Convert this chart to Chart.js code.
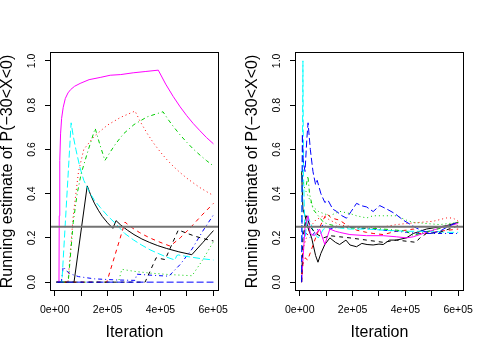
<!DOCTYPE html>
<html>
<head>
<meta charset="utf-8">
<script src="https://cdn.jsdelivr.net/npm/chart.js@4"></script>
<style>
  html, body { margin: 0; padding: 0; background: #fff; }
  #wrap { position: relative; width: 491px; height: 355px; }
  canvas { position: absolute; top: 0; }
  #leftPanel { left: 0; }
  #rightPanel { left: 245px; }
</style>
</head>
<body>
<div id="wrap">
  <canvas id="leftPanel" width="245" height="355"></canvas>
  <canvas id="rightPanel" width="246" height="355"></canvas>
</div>
<script>
// axis ticks
const xTicks = [0, 100000, 200000, 300000, 400000, 500000, 600000];
const xTickLabels = ['0e+00', '', '2e+05', '', '4e+05', '', '6e+05'];
const yTicks = [0, 0.2, 0.4, 0.6, 0.8, 1.0];
const yTickLabels = ['0.0', '0.2', '0.4', '0.6', '0.8', '1.0'];
const trueValue = 0.25;

// left panel: [iteration, running estimate]
const leftChain1 = [[7000, 0], [73000, 0], [123000, 0.435], [135000, 0.397], [150000, 0.357], [165000, 0.325], [180000, 0.297], [200000, 0.268], [220000, 0.243], [232000, 0.278], [250000, 0.258], [275000, 0.235], [300000, 0.215], [330000, 0.195], [360000, 0.179], [390000, 0.165], [424000, 0.152], [470000, 0.137], [519000, 0.124], [560000, 0.178], [601000, 0.233]];
const leftChain2 = [[7000, 0], [197000, 0], [266000, 0.271], [285000, 0.253], [300000, 0.24], [320000, 0.225], [335000, 0.215], [360000, 0.2], [385000, 0.187], [410000, 0.175], [437000, 0.163], [475000, 0.2], [512000, 0.244], [555000, 0.3], [601000, 0.356]];
const leftChain3 = [[7000, 0], [241000, 0], [254000, 0.058], [300000, 0.049], [360000, 0.041], [437000, 0.034], [520000, 0.029], [560000, 0.1], [601000, 0.183]];
const leftChain4 = [[7000, 0], [25000, 0], [32000, 0.07], [45000, 0.05], [60000, 0.037], [90000, 0.025], [150000, 0.015], [230000, 0.01], [305000, 0.008], [310000, 0.036], [370000, 0.031], [432000, 0.027], [475000, 0.08], [520000, 0.15], [560000, 0.23], [601000, 0.304]];
const leftChain5 = [[7000, 0], [27000, 0], [62000, 0.72], [70000, 0.66], [80000, 0.6], [95000, 0.52], [110000, 0.46], [130000, 0.41], [150000, 0.37], [172000, 0.338], [200000, 0.3], [235000, 0.259], [265000, 0.22], [298000, 0.191], [330000, 0.167], [361000, 0.146], [395000, 0.128], [424000, 0.113], [455000, 0.1], [462000, 0.12], [468000, 0.123], [500000, 0.116], [550000, 0.107], [601000, 0.1]];
const leftChain6 = [[7000, 0], [16000, 0], [17000, 0.3], [19000, 0.55], [22000, 0.67], [26000, 0.74], [32000, 0.79], [40000, 0.83], [50000, 0.855], [60000, 0.87], [75000, 0.885], [96000, 0.898], [130000, 0.915], [172000, 0.925], [210000, 0.935], [250000, 0.938], [297000, 0.946], [345000, 0.952], [392000, 0.958], [420000, 0.895], [448000, 0.84], [475000, 0.792], [500000, 0.752], [525000, 0.716], [550000, 0.684], [575000, 0.653], [601000, 0.625]];
const leftChain7 = [[7000, 0], [342000, 0], [384000, 0.11], [418000, 0.102], [468000, 0.236], [500000, 0.221], [530000, 0.208], [565000, 0.196], [601000, 0.186]];
const leftChain8 = [[7000, 0], [50000, 0], [70000, 0.3], [90000, 0.5], [110000, 0.6], [150000, 0.66], [200000, 0.71], [250000, 0.745], [304000, 0.773], [325000, 0.723], [350000, 0.672], [375000, 0.627], [400000, 0.588], [425000, 0.553], [450000, 0.522], [475000, 0.495], [500000, 0.47], [525000, 0.448], [550000, 0.427], [575000, 0.409], [601000, 0.391]];
const leftChain9 = [[7000, 0], [51000, 0], [70000, 0.27], [85000, 0.4], [100000, 0.49], [125000, 0.59], [153000, 0.695], [170000, 0.625], [190000, 0.55], [210000, 0.588], [230000, 0.624], [260000, 0.67], [300000, 0.712], [350000, 0.747], [410000, 0.77], [430000, 0.734], [450000, 0.702], [475000, 0.665], [500000, 0.632], [525000, 0.601], [550000, 0.574], [575000, 0.549], [601000, 0.525]];
const leftChain10 = [[7000, 0], [601000, 0]];

// right panel: [iteration, running estimate]
const rightChain1 = [[7000, 0.5], [12000, 0.33], [20000, 0.3], [30000, 0.25], [45000, 0.2], [60000, 0.12], [69000, 0.09], [80000, 0.13], [95000, 0.17], [114000, 0.2], [135000, 0.18], [151000, 0.17], [175000, 0.19], [190000, 0.168], [215000, 0.16], [235000, 0.175], [255000, 0.17], [278000, 0.168], [300000, 0.172], [316000, 0.17], [340000, 0.19], [366000, 0.19], [404000, 0.2], [430000, 0.22], [455000, 0.23], [480000, 0.24], [505000, 0.245], [555000, 0.255], [600000, 0.27]];
const rightChain2 = [[7000, 0], [12000, 0.08], [20000, 0.11], [30000, 0.1], [45000, 0.15], [60000, 0.2], [80000, 0.26], [101000, 0.31], [120000, 0.29], [151000, 0.28], [175000, 0.26], [190000, 0.25], [215000, 0.235], [253000, 0.225], [278000, 0.22], [316000, 0.215], [366000, 0.23], [404000, 0.235], [430000, 0.24], [455000, 0.22], [480000, 0.22], [530000, 0.23], [600000, 0.24]];
const rightChain3 = [[7000, 0.5], [12000, 0.45], [20000, 0.42], [35000, 0.38], [50000, 0.34], [70000, 0.32], [90000, 0.31], [114000, 0.3], [151000, 0.32], [190000, 0.31], [215000, 0.3], [253000, 0.29], [278000, 0.3], [316000, 0.3], [366000, 0.3], [404000, 0.28], [430000, 0.27], [480000, 0.265], [530000, 0.26], [600000, 0.27]];
const rightChain4 = [[7000, 0.3], [12000, 0.2], [25000, 0.22], [40000, 0.2], [60000, 0.23], [90000, 0.26], [114000, 0.24], [151000, 0.25], [215000, 0.245], [278000, 0.24], [316000, 0.235], [366000, 0.23], [404000, 0.225], [455000, 0.22], [505000, 0.22], [555000, 0.22], [600000, 0.22]];
const rightChain5 = [[7000, 0], [12000, 1.0], [14000, 0.5], [20000, 0.2], [30000, 0.3], [40000, 0.27], [55000, 0.22], [70000, 0.2], [90000, 0.24], [114000, 0.25], [151000, 0.245], [190000, 0.24], [253000, 0.24], [316000, 0.235], [404000, 0.23], [455000, 0.23], [505000, 0.23], [555000, 0.225], [600000, 0.225]];
const rightChain6 = [[7000, 0], [12000, 0.1], [20000, 0.25], [31000, 0.3], [40000, 0.22], [55000, 0.21], [75000, 0.24], [95000, 0.17], [114000, 0.24], [135000, 0.23], [151000, 0.225], [190000, 0.215], [253000, 0.21], [316000, 0.21], [366000, 0.205], [404000, 0.2], [430000, 0.205], [455000, 0.215], [480000, 0.225], [530000, 0.245], [600000, 0.265]];
const rightChain7 = [[7000, 0], [12000, 0.2], [25000, 0.3], [40000, 0.25], [60000, 0.22], [90000, 0.2], [114000, 0.21], [151000, 0.205], [190000, 0.2], [253000, 0.19], [316000, 0.18], [366000, 0.19], [404000, 0.185], [440000, 0.18], [455000, 0.2], [480000, 0.22], [530000, 0.225], [600000, 0.255]];
const rightChain8 = [[7000, 0], [12000, 0.15], [25000, 0.2], [40000, 0.25], [60000, 0.28], [90000, 0.3], [114000, 0.28], [151000, 0.26], [190000, 0.25], [253000, 0.245], [316000, 0.25], [366000, 0.26], [404000, 0.265], [455000, 0.27], [505000, 0.275], [555000, 0.29], [580000, 0.29], [600000, 0.275]];
const rightChain9 = [[7000, 0.5], [12000, 0.45], [25000, 0.44], [31000, 0.48], [37000, 0.4], [50000, 0.33], [70000, 0.3], [90000, 0.27], [114000, 0.26], [151000, 0.25], [190000, 0.245], [253000, 0.245], [316000, 0.24], [366000, 0.235], [404000, 0.23], [430000, 0.21], [455000, 0.22], [505000, 0.235], [555000, 0.25], [600000, 0.27]];
const rightChain10 = [[7000, 0], [10000, 0.67], [13000, 0.55], [20000, 0.5], [27000, 0.65], [31500, 0.72], [40000, 0.6], [50000, 0.5], [60000, 0.44], [66000, 0.46], [80000, 0.4], [95000, 0.36], [107000, 0.37], [125000, 0.33], [139000, 0.32], [160000, 0.3], [177000, 0.289], [195000, 0.32], [215000, 0.356], [235000, 0.345], [253000, 0.34], [278000, 0.319], [303000, 0.346], [330000, 0.33], [360000, 0.31], [391000, 0.281], [420000, 0.26], [442000, 0.244], [470000, 0.23], [499000, 0.221], [530000, 0.23], [560000, 0.25], [600000, 0.273]];

const leftChains = [leftChain1, leftChain2, leftChain3, leftChain4, leftChain5, leftChain6, leftChain7, leftChain8, leftChain9, leftChain10];
const rightChains = [rightChain1, rightChain2, rightChain3, rightChain4, rightChain5, rightChain6, rightChain7, rightChain8, rightChain9, rightChain10];

// R matplot defaults: col 1:6, lty 1:5
const COLORS = ['#000000', '#FF0000', '#00CD00', '#0000FF', '#00FFFF', '#FF00FF'];
const DASHES = [[], [4, 4], [1, 3], [1, 3, 4, 3], [7, 3]];
const X_MIN = -18000, X_MAX = 622000;
const FONT = '"Liberation Sans", Arial, Helvetica, sans-serif';

const boxPlugin = {
    id: 'rbox',
    afterDraw(chart) {
        const a = chart.chartArea;
        const ctx = chart.ctx;
        ctx.save();
        ctx.strokeStyle = '#000';
        ctx.lineWidth = 1;
        ctx.strokeRect(Math.round(a.left) + 0.5, Math.round(a.top) + 0.5,
            Math.round(a.right - a.left) - 1, Math.round(a.bottom - a.top) - 1);
        ctx.restore();
    }
};

function makeDatasets(chains) {
    const sets = chains.map((chain, i) => ({
        data: chain,
        borderColor: COLORS[i % 6],
        borderDash: DASHES[i % 5],
        borderWidth: 1,
        order: chains.length - i,
    }));
    // true value line (abline)
    sets.push({
        data: [[X_MIN, trueValue], [X_MAX, trueValue]],
        borderColor: '#737373',
        borderWidth: 2,
        order: 0,
    });
    return sets;
}

function makeChart(id, chains, rightPad) {
    return new Chart(document.getElementById(id), {
        type: 'line',
        data: { datasets: makeDatasets(chains) },
        options: {
            responsive: false,
            animation: false,
            events: [],
            layout: { padding: { top: 52, right: rightPad, bottom: 0, left: 0 } },
            elements: {
                point: { radius: 0 },
                line: { tension: 0, fill: false, borderCapStyle: 'butt' }
            },
            plugins: { legend: { display: false }, tooltip: { enabled: false } },
            scales: {
                x: {
                    type: 'linear',
                    min: X_MIN,
                    max: X_MAX,
                    afterBuildTicks: s => { s.ticks = xTicks.map(v => ({ value: v })); },
                    afterFit: s => { s.height = 64; },
                    grid: { drawOnChartArea: false, tickLength: 5, tickColor: '#000' },
                    border: { display: false },
                    ticks: {
                        autoSkip: false,
                        maxRotation: 0,
                        padding: 8,
                        color: '#000',
                        font: { family: FONT, size: 10.5 },
                        callback: (v) => xTickLabels[xTicks.indexOf(v)] ?? ''
                    },
                    title: {
                        display: true,
                        text: 'Iteration',
                        color: '#000',
                        font: { family: FONT, size: 16, lineHeight: 1 },
                        padding: { top: 0, bottom: 14 }
                    }
                },
                y: {
                    type: 'linear',
                    min: -0.04,
                    max: 1.04,
                    afterBuildTicks: s => { s.ticks = yTicks.map(v => ({ value: v })); },
                    afterFit: s => { s.width = 50; },
                    grid: { drawOnChartArea: false, tickLength: 5, tickColor: '#000' },
                    border: { display: false },
                    ticks: {
                        minRotation: 90,
                        maxRotation: 90,
                        crossAlign: 'center',
                        padding: 6,
                        color: '#000',
                        font: { family: FONT, size: 10.5 },
                        callback: (v) => yTickLabels[yTicks.indexOf(v)] ?? ''
                    },
                    title: {
                        display: true,
                        text: 'Running estimate of P(\u221230<X<0)',
                        color: '#000',
                        font: { family: FONT, size: 16, lineHeight: 1 },
                        padding: { top: 0, bottom: 0 }
                    }
                }
            }
        },
        plugins: [boxPlugin]
    });
}

makeChart('leftPanel', leftChains, 26);
makeChart('rightPanel', rightChains, 27);
</script>
</body>
</html>
